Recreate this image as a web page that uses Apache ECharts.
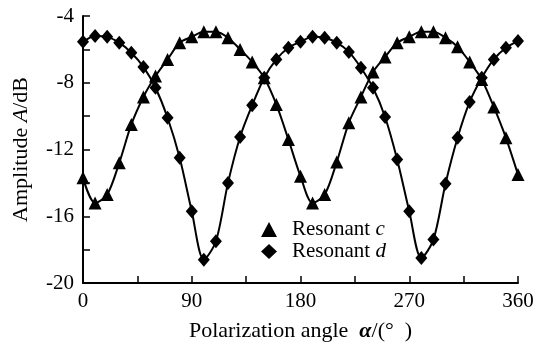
<!DOCTYPE html>
<html>
<head>
<meta charset="utf-8">
<script src="https://cdn.jsdelivr.net/npm/echarts@6/dist/echarts.min.js"></script>
<style>
  html, body { margin: 0; padding: 0; background: #fff; }
  #chart { width: 544px; height: 347px; }
</style>
</head>
<body>
<div id="chart"></div>
<script>
// polarization angle in degrees, one point every 10 degrees
const angles = [0, 10, 20, 30, 40, 50, 60, 70, 80, 90, 100, 110, 120, 130, 140, 150, 160, 170, 180,
  190, 200, 210, 220, 230, 240, 250, 260, 270, 280, 290, 300, 310, 320, 330, 340, 350, 360];

// Resonant c (triangles), dB
const resonantC = [-13.7, -15.2, -14.7, -12.8, -10.5, -8.85, -7.6, -6.6, -5.6, -5.25, -4.95, -4.95, -5.3,
  -6.0, -6.75, -7.7, -9.3, -11.4, -13.6, -15.2, -14.7, -12.75, -10.4, -8.85, -7.35, -6.45, -5.6,
  -5.25, -4.95, -4.95, -5.3, -5.85, -6.75, -7.8, -9.45, -11.3, -13.5];

// Resonant d (diamonds), dB
const resonantD = [-5.55, -5.2, -5.25, -5.6, -6.2, -7.05, -8.3, -10.1, -12.5, -15.7, -18.6, -17.5, -14.0,
  -11.25, -9.35, -7.7, -6.6, -5.9, -5.55, -5.25, -5.3, -5.6, -6.15, -7.1, -8.3, -10.05, -12.6,
  -15.7, -18.5, -17.4, -14.05, -11.3, -9.15, -7.7, -6.6, -5.9, -5.5];

const xLabels = [0, 90, 180, 270, 360];
const yLabels = [-4, -8, -12, -16, -20];

const font = "'Liberation Serif', 'DejaVu Serif', serif";

const chart = echarts.init(document.getElementById("chart"));

const pairs = (ys) => angles.map((a, i) => [a, ys[i]]);

chart.setOption({
  animation: false,
  grid: { left: 83, right: 26, top: 16, bottom: 64 },
  xAxis: {
    type: "value",
    min: 0,
    max: 360,
    interval: 45,
    name: "Polarization angle  {i|α}/(°  )",
    nameLocation: "middle",
    nameGap: 37,
    nameTextStyle: {
      fontFamily: font, fontSize: 22, color: "#000",
      rich: { i: { fontFamily: font, fontSize: 22, fontStyle: "italic", fontWeight: "bold" } }
    },
    axisLine: { lineStyle: { color: "#000", width: 2 } },
    axisTick: { inside: true, length: 7, lineStyle: { color: "#000", width: 1.5 } },
    axisLabel: {
      margin: 8, fontFamily: font, fontSize: 21, color: "#000",
      formatter: (v) => (xLabels.indexOf(v) >= 0 ? String(v) : "")
    },
    splitLine: { show: false }
  },
  yAxis: {
    type: "value",
    min: -20,
    max: -4,
    interval: 2,
    name: "Amplitude {i|A}/dB",
    nameLocation: "middle",
    nameGap: 51,
    nameTextStyle: {
      fontFamily: font, fontSize: 22, color: "#000",
      rich: { i: { fontFamily: font, fontSize: 22, fontStyle: "italic" } }
    },
    axisLine: { show: true, lineStyle: { color: "#000", width: 2 } },
    axisTick: { show: true, inside: true, length: 7, lineStyle: { color: "#000", width: 1.5 } },
    axisLabel: {
      margin: 9, fontFamily: font, fontSize: 21, color: "#000",
      formatter: (v) => (yLabels.indexOf(v) >= 0 ? String(v) : "")
    },
    splitLine: { show: false }
  },
  legend: {
    orient: "vertical",
    left: 256,
    top: 214,
    itemWidth: 16,
    itemHeight: 15,
    itemGap: 1,
    textStyle: {
      fontFamily: font, fontSize: 21, color: "#000",
      rich: {
        s: { width: 10 },
        i: { fontFamily: font, fontSize: 21, fontStyle: "italic" }
      }
    },
    formatter: (name) => "{s|}" + name.replace(/ (\w)$/, " {i|$1}"),
    data: [
      { name: "Resonant c", icon: "triangle", itemStyle: { color: "#000" } },
      { name: "Resonant d", icon: "diamond", itemStyle: { color: "#000" } }
    ]
  },
  series: [
    {
      name: "Resonant c",
      type: "line",
      smooth: 0.3,
      data: pairs(resonantC),
      symbol: "triangle",
      symbolSize: 13,
      itemStyle: { color: "#000" },
      lineStyle: { color: "#000", width: 2 }
    },
    {
      name: "Resonant d",
      type: "line",
      smooth: 0.3,
      data: pairs(resonantD),
      symbol: "diamond",
      symbolSize: [12, 14],
      itemStyle: { color: "#000" },
      lineStyle: { color: "#000", width: 2 }
    }
  ]
});
</script>
</body>
</html>
